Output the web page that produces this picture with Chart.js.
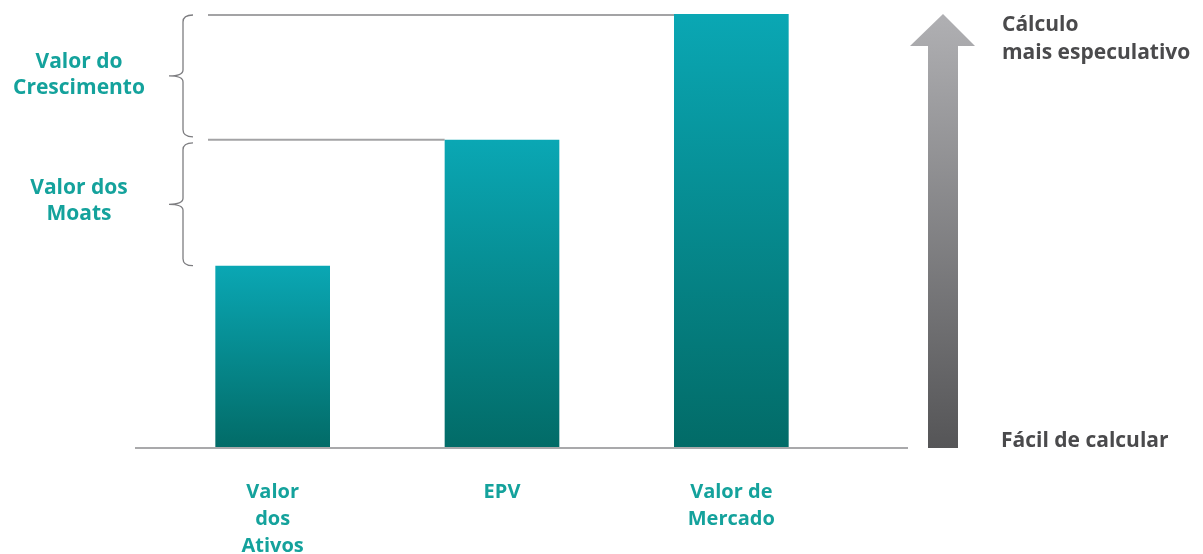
<!DOCTYPE html>
<html>
<head>
<meta charset="utf-8">
<script src="https://cdn.jsdelivr.net/npm/chart.js@4"></script>
<style>
  html, body { margin: 0; padding: 0; background: #fff; }
  #wrap { width: 1203px; height: 554px; }
</style>
</head>
<body>
<div id="wrap"><canvas id="chart" width="1203" height="554"></canvas></div>
<script>
// data
const categories = [['Valor', 'dos', 'Ativos'], 'EPV', ['Valor de', 'Mercado']]
const values = [42, 71, 100]
const braceLabels = [['Valor do', 'Crescimento'], ['Valor dos', 'Moats']]
const arrowTop = ['Cálculo', 'mais especulativo']
const arrowBottom = 'Fácil de calcular'

const TEAL = '#14a29c'
const GREY_TEXT = '#4a4a4c'
const FONT = '"Open Sans", sans-serif'

function barGradient(ctx) {
  const chart = ctx.chart
  const y = chart.scales.y
  if (!chart.chartArea || !y) return '#0a8f96'
  const v = ctx.raw
  const top = y.getPixelForValue(v)
  const bottom = y.getPixelForValue(0)
  const g = chart.ctx.createLinearGradient(0, top, 0, bottom)
  g.addColorStop(0, '#0aa7b4')
  g.addColorStop(1, '#026b67')
  return g
}

function brace(c, x, y1, y2) {
  // curly brace opening to the right
  const mid = (y1 + y2) / 2
  c.beginPath()
  c.moveTo(x + 10, y1)
  c.quadraticCurveTo(x, y1, x, y1 + 7)
  c.lineTo(x, mid - 6)
  c.quadraticCurveTo(x, mid, x - 14, mid)
  c.quadraticCurveTo(x, mid, x, mid + 6)
  c.lineTo(x, y2 - 7)
  c.quadraticCurveTo(x, y2, x + 10, y2)
  c.stroke()
}

const extras = {
  id: 'extras',
  beforeDatasetsDraw(chart) {
    const c = chart.ctx
    const bars = chart.getDatasetMeta(0).data
    c.save()
    // reference lines from bar tops back to the braces
    c.strokeStyle = '#a3a3a5'
    c.lineWidth = 2
    ;[1, 2].forEach(i => {
      const b = bars[i]
      const yy = Math.max(b.y, chart.chartArea.top + 1)
      c.beginPath()
      c.moveTo(208, yy)
      c.lineTo(b.x - b.width / 2, yy)
      c.stroke()
    })
    c.restore()
  },
  afterDatasetsDraw(chart) {
    const c = chart.ctx
    const y = chart.scales.y
    const area = chart.chartArea
    const base = y.getPixelForValue(0)
    c.save()

    // baseline
    c.strokeStyle = '#a9a9ab'
    c.lineWidth = 2
    c.beginPath()
    c.moveTo(135, base)
    c.lineTo(908, base)
    c.stroke()

    // braces
    c.strokeStyle = '#7d7d80'
    c.lineWidth = 1.3
    const t0 = Math.max(y.getPixelForValue(values[2]), area.top + 1)
    const t1 = y.getPixelForValue(values[1])
    const t2 = y.getPixelForValue(values[0])
    brace(c, 183, t0, t1 - 3)
    brace(c, 183, t1 + 3, t2)

    // brace labels
    c.fillStyle = TEAL
    c.font = 'bold 21px ' + FONT
    c.textAlign = 'center'
    c.textBaseline = 'middle'
    const mids = [(t0 + t1) / 2, (t1 + t2) / 2]
    braceLabels.forEach((lines, i) => {
      lines.forEach((s, j) => {
        c.fillText(s, 79, mids[i] - 15 + j * 26)
      })
    })

    // arrow on the right
    const cx = 943
    const tip = area.top
    const g = c.createLinearGradient(0, tip, 0, base)
    g.addColorStop(0, '#b0b0b3')
    g.addColorStop(1, '#555557')
    c.fillStyle = g
    c.beginPath()
    c.moveTo(cx, tip)
    c.lineTo(cx + 32, tip + 32)
    c.lineTo(cx + 15, tip + 32)
    c.lineTo(cx + 15, base)
    c.lineTo(cx - 15, base)
    c.lineTo(cx - 15, tip + 32)
    c.lineTo(cx - 33, tip + 32)
    c.closePath()
    c.fill()

    c.fillStyle = GREY_TEXT
    c.font = 'bold 21px ' + FONT
    c.textAlign = 'left'
    arrowTop.forEach((s, j) => c.fillText(s, 1002, 25 + j * 28))
    c.fillText(arrowBottom, 1001, 441)
    c.restore()
  }
}

new Chart('chart', {
  type: 'bar',
  data: {
    labels: categories,
    datasets: [{
      data: values,
      backgroundColor: barGradient,
      borderWidth: 0,
      barPercentage: 1,
      categoryPercentage: 0.5
    }]
  },
  options: {
    responsive: false,
    animation: false,
    layout: { padding: { left: 158, right: 357, top: 14, bottom: 0 } },
    plugins: { legend: { display: false }, tooltip: { enabled: false } },
    scales: {
      x: {
        grid: { display: false, drawTicks: false },
        border: { display: false },
        afterFit: s => { s.height = 106 },
        ticks: {
          color: TEAL,
          padding: 31,
          maxRotation: 0,
          autoSkip: false,
          font: { family: FONT, weight: 'bold', size: 20, lineHeight: 1.35 }
        }
      },
      y: { display: false, min: 0, max: 100 }
    }
  },
  plugins: [extras]
})
</script>
</body>
</html>
